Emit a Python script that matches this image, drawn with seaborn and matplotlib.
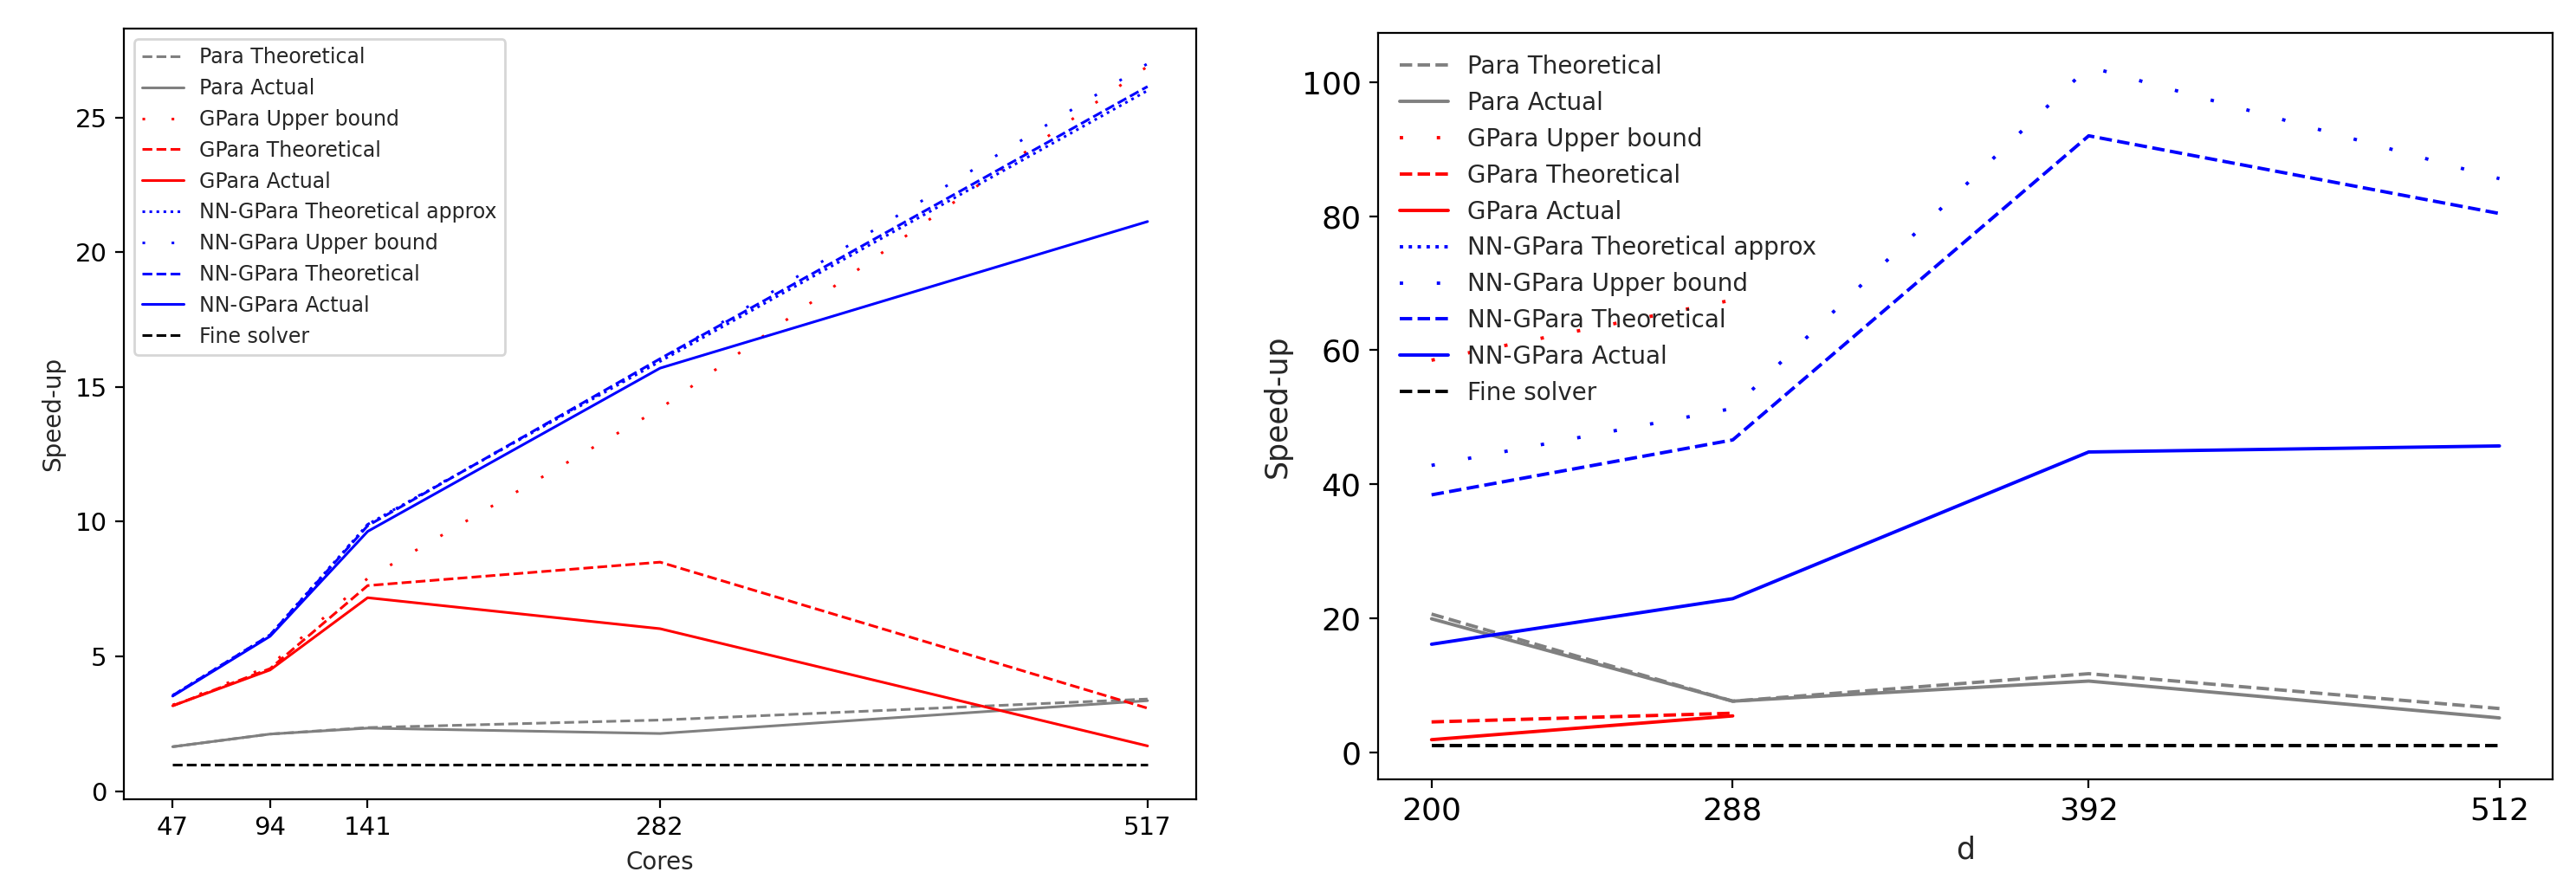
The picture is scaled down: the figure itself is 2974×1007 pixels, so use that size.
import numpy as np
import matplotlib
matplotlib.use("Agg")
import matplotlib.pyplot as plt
import seaborn as sns

# left panel: speed-up against number of cores
cores = [47, 94, 141, 282, 517]
para_theo_c = [1.65, 2.12, 2.36, 2.64, 3.42]
para_act_c = [1.65, 2.12, 2.34, 2.14, 3.36]
gpara_ub_c = [3.2, 4.65, 7.9, 14.2, 26.9]
gpara_theo_c = [3.17, 4.55, 7.63, 8.5, 3.08]
gpara_act_c = [3.17, 4.5, 7.18, 6.03, 1.68]
nn_approx_c = [3.55, 5.8, 9.9, 15.95, 26.0]
nn_ub_c = [3.55, 5.8, 9.9, 16.0, 27.0]
nn_theo_c = [3.55, 5.8, 9.85, 16.05, 26.15]
nn_act_c = [3.53, 5.75, 9.64, 15.7, 21.14]
fine_c = [1, 1, 1, 1, 1]

# right panel: speed-up against d
d_vals = [200, 288, 392, 512]
d_gpara = [200, 288]
para_theo_d = [20.6, 7.6, 11.7, 6.5]
para_act_d = [19.9, 7.6, 10.6, 5.1]
gpara_ub_d = [58.5, 67.5]
gpara_theo_d = [4.5, 5.8]
gpara_act_d = [1.85, 5.4]
nn_approx_d = [np.nan, np.nan, np.nan, np.nan]
nn_ub_d = [42.8, 51.3, 102.3, 85.6]
nn_theo_d = [38.4, 46.6, 92.0, 80.4]
nn_act_d = [16.1, 22.9, 44.8, 45.7]
fine_d = [1, 1, 1, 1]

sns.set_style("ticks", {"axes.edgecolor": "black", "xtick.color": "black",
                        "ytick.color": "black", "axes.linewidth": 1.0})

fig = plt.figure(figsize=(14.87, 5.035), dpi=200)
ax1 = fig.add_axes([0.0481, 0.0834, 0.4163, 0.8838])
ax2 = fig.add_axes([0.535, 0.1063, 0.456, 0.856])

sparse = (0, (1, 10))


def draw(ax, x, xg, series, lw):
    (pt, pa, gub, gt, ga, na, nub, nt, nact, fs) = series
    kw = dict(ax=ax, estimator=None, sort=False, linewidth=lw)
    sns.lineplot(x=x, y=pt, color="gray", linestyle="--", label="Para Theoretical", **kw)
    sns.lineplot(x=x, y=pa, color="gray", linestyle="-", label="Para Actual", **kw)
    sns.lineplot(x=xg, y=gub, color="red", linestyle=sparse, label="GPara Upper bound", **kw)
    sns.lineplot(x=xg, y=gt, color="red", linestyle="--", label="GPara Theoretical", **kw)
    sns.lineplot(x=xg, y=ga, color="red", linestyle="-", label="GPara Actual", **kw)
    if np.all(np.isnan(na)):
        ax.plot(x, na, color="blue", linestyle=":", linewidth=lw,
                label="NN-GPara Theoretical approx")
    else:
        sns.lineplot(x=x, y=na, color="blue", linestyle=":",
                     label="NN-GPara Theoretical approx", **kw)
    sns.lineplot(x=x, y=nub, color="blue", linestyle=sparse, label="NN-GPara Upper bound", **kw)
    sns.lineplot(x=x, y=nt, color="blue", linestyle="--", label="NN-GPara Theoretical", **kw)
    sns.lineplot(x=x, y=nact, color="blue", linestyle="-", label="NN-GPara Actual", **kw)
    sns.lineplot(x=x, y=fs, color="black", linestyle="--", label="Fine solver", **kw)


draw(ax1, cores, cores,
     (para_theo_c, para_act_c, gpara_ub_c, gpara_theo_c, gpara_act_c,
      nn_approx_c, nn_ub_c, nn_theo_c, nn_act_c, fine_c), 1.1)
draw(ax2, d_vals, d_gpara,
     (para_theo_d, para_act_d, gpara_ub_d, gpara_theo_d, gpara_act_d,
      nn_approx_d, nn_ub_d, nn_theo_d, nn_act_d, fine_d), 1.4)

# left axes
ax1.set_xticks(cores)
ax1.set_yticks([0, 5, 10, 15, 20, 25])
ax1.tick_params(labelsize=10.5)
ax1.set_xlabel("Cores", fontsize=10)
ax1.set_ylabel("Speed-up", fontsize=10)
ax1.legend(loc="upper left", fontsize=8.5)

# right axes
ax2.set_xticks(d_vals)
ax2.set_yticks([0, 20, 40, 60, 80, 100])
ax2.tick_params(labelsize=13)
ax2.set_xlabel("d", fontsize=12.5)
ax2.set_ylabel("Speed-up", fontsize=12.5)
ax2.legend(loc="upper left", fontsize=10, frameon=False)

fig.savefig("out.png", dpi=200)
